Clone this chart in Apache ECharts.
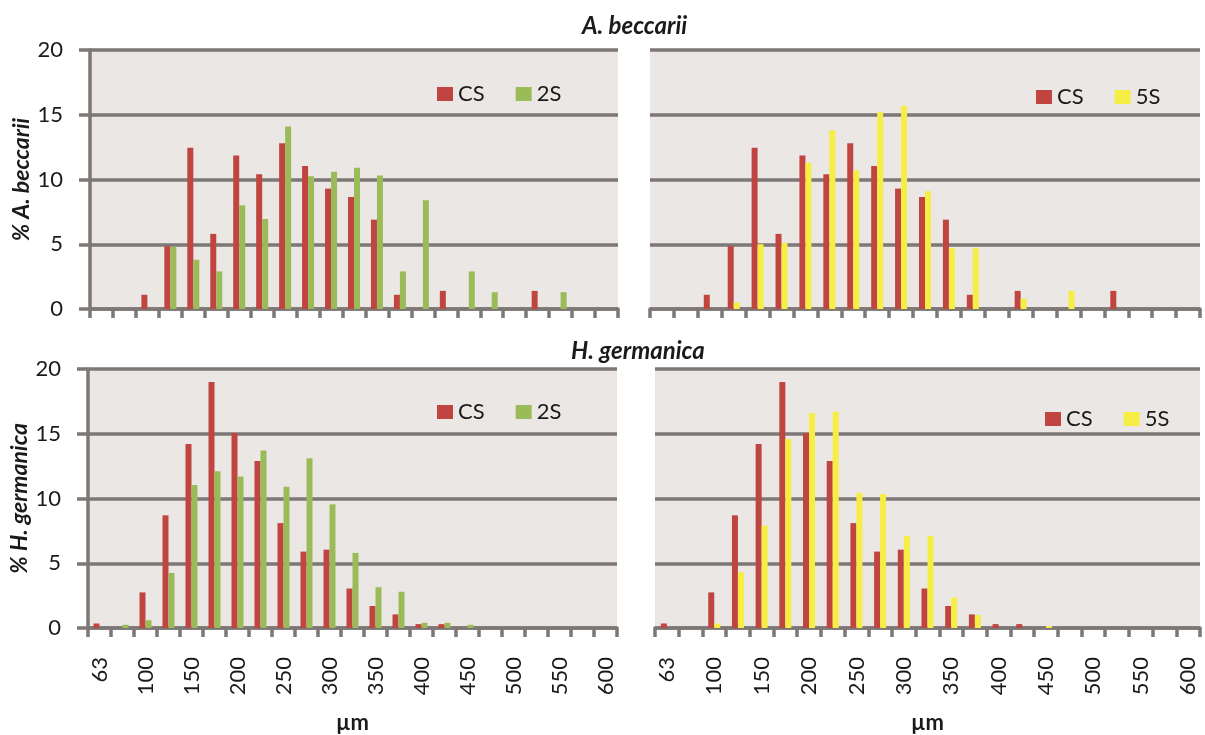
<!DOCTYPE html>
<html>
<head>
<meta charset="utf-8">
<script src="https://cdn.jsdelivr.net/npm/echarts@6/dist/echarts.min.js"></script>
<style>
html,body{margin:0;padding:0;background:#ffffff;}
#chart{width:1205px;height:735px;}
</style>
</head>
<body>
<div id="chart"></div>
<script>
// Size classes (µm); every other one is labelled on the axis
const categories = ['63','80','100','125','150','175','200','225','250','275','300','325','350','375','400','425','450','475','500','525','550','575','600'];

// A. beccarii (%)
const csA = [0,0,1.1,4.85,12.45,5.8,11.85,10.4,12.8,11.05,9.3,8.65,6.9,1.1,0,1.4,0,0,0,1.4,0,0,0];
const s2A = [0,0,0,4.8,3.8,2.9,8.0,6.95,14.1,10.25,10.6,10.9,10.3,2.9,8.4,0,2.9,1.3,0,0,1.3,0,0];
const s5A = [0,0,0,0.5,5.0,5.1,11.3,13.8,10.7,15.2,15.7,9.1,4.7,4.7,0,0.8,0,1.4,0,0,0,0,0];

// H. germanica (%)
const csH = [0.35,0,2.75,8.7,14.2,19.0,15.05,12.9,8.1,5.9,6.05,3.05,1.7,1.05,0.3,0.3,0,0,0,0,0,0,0];
const s2H = [0,0.25,0.6,4.25,11.05,12.1,11.7,13.7,10.9,13.1,9.55,5.8,3.15,2.8,0.4,0.4,0.25,0,0,0,0,0,0];
const s5H = [0,0,0.35,4.3,7.9,14.6,16.6,16.7,10.45,10.35,7.1,7.1,2.35,1.0,0,0,0.15,0,0,0,0,0,0];

const yTicks = {min:0, max:20, interval:5};

const RED = '#c0443f', GREEN = '#9bbb59', YELLOW = '#f6ee45';
const GRID_COL = '#7d7776', BG = '#ebe7e5';
const FONT = 'Lato, "Open Sans", sans-serif';
const TXT = '#1a1a1a';

const chart = echarts.init(document.getElementById('chart'));

function xAxis(gi, showLabels){
  return {
    type:'category', gridIndex:gi, data:categories, boundaryGap:true,
    axisLine:{show:true, lineStyle:{color:GRID_COL, width:3.5}},
    axisTick:{show:true, interval:0, length:9, lineStyle:{color:GRID_COL, width:3.5}},
    axisLabel:{show:showLabels, interval:1, rotate:90, margin:29, fontSize:22, color:TXT, fontFamily:FONT},
    name: showLabels ? 'µm' : '', nameLocation:'middle', nameGap:84,
    nameTextStyle:{fontSize:22, fontWeight:'bold', color:TXT, fontFamily:FONT}
  };
}
function yAxis(gi, left, name){
  return {
    type:'value', gridIndex:gi, min:yTicks.min, max:yTicks.max, interval:yTicks.interval,
    axisLine:{show:left, lineStyle:{color:GRID_COL, width:3.5}},
    axisTick:{show:left, length:11, lineStyle:{color:GRID_COL, width:3.5}},
    axisLabel:{show:left, margin:27, fontSize:22, color:TXT, fontFamily:FONT},
    splitLine:{show:true, lineStyle:{color:GRID_COL, width:3.5}},
    name: name || '', nameLocation:'middle', nameGap:57, nameRotate:90,
    nameTextStyle:{fontSize:23, fontWeight:'bold', fontStyle:'italic', color:TXT, fontFamily:FONT}
  };
}
function bar(name, gi, data, color){
  return {type:'bar', name:name, xAxisIndex:gi, yAxisIndex:gi, data:data,
    barWidth:6, barGap:'0%', itemStyle:{color:color}, emphasis:{disabled:true}};
}
function legend(left, top, names){
  return {left:left, top:top, data:names, icon:'rect', itemWidth:16, itemHeight:14,
    itemGap:31, padding:0, selectedMode:false,
    textStyle:{fontSize:22, color:TXT, fontFamily:FONT, padding:[0,0,0,0]}};
}

const gridCommon = {show:true, backgroundColor:BG, borderWidth:0, containLabel:false};
const titleStyle = {fontSize:24, fontWeight:'bold', fontStyle:'italic', color:TXT, fontFamily:FONT};

chart.setOption({
  animation:false,
  backgroundColor:'#ffffff',
  title:[
    {text:'A. beccarii', left:577, top:9, textStyle:titleStyle},
    {text:'H. germanica', left:566, top:334, textStyle:titleStyle}
  ],
  legend:[
    legend(437, 83, ['CS','2S']),
    legend(1036, 86, ['CS','5S']),
    legend(437, 401, ['CS','2S']),
    legend(1045, 408, ['CS','5S'])
  ],
  grid:[
    Object.assign({left:90, top:50, width:528, height:259}, gridCommon),
    Object.assign({left:650, top:50, width:550, height:259}, gridCommon),
    Object.assign({left:88, top:369, width:529, height:265}, gridCommon),
    Object.assign({left:655, top:369, width:545, height:265}, gridCommon)
  ],
  xAxis:[xAxis(0,false), xAxis(1,false), xAxis(2,true), xAxis(3,true)],
  yAxis:[yAxis(0,true,'% A. beccarii'), yAxis(1,false), yAxis(2,true,'% H. germanica'), yAxis(3,false)],
  series:[
    bar('CS',0,csA,RED), bar('2S',0,s2A,GREEN),
    bar('CS',1,csA,RED), bar('5S',1,s5A,YELLOW),
    bar('CS',2,csH,RED), bar('2S',2,s2H,GREEN),
    bar('CS',3,csH,RED), bar('5S',3,s5H,YELLOW)
  ]
});
</script>
</body>
</html>
